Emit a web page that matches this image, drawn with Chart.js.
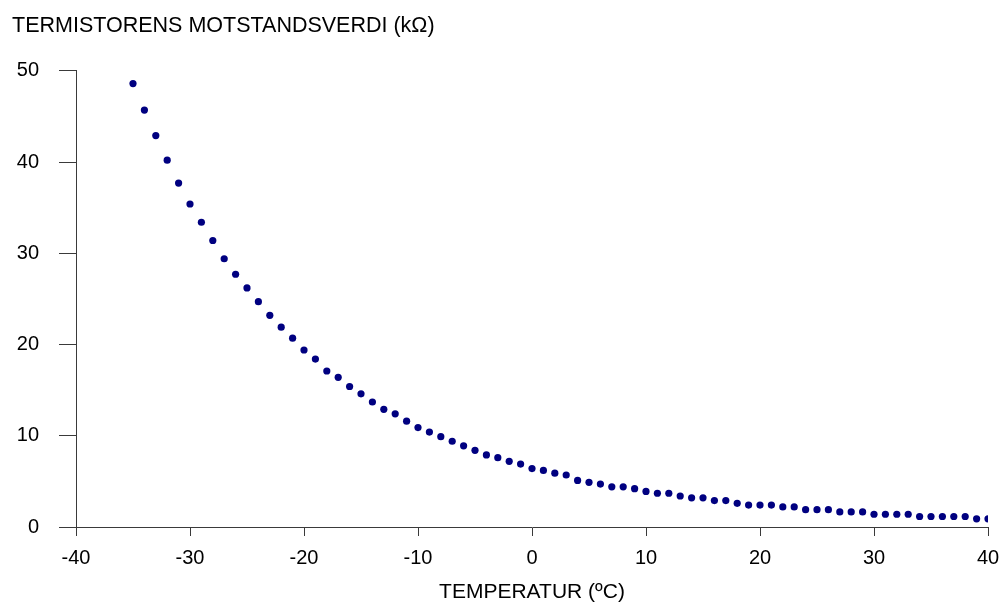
<!DOCTYPE html>
<html>
<head>
<meta charset="utf-8">
<title>Termistor</title>
<script src="https://cdn.jsdelivr.net/npm/chart.js@4/dist/chart.umd.min.js"></script>
<style>
  html, body { margin: 0; padding: 0; background: #fff; }
  #wrap { width: 1003px; height: 603px; }
</style>
</head>
<body>
<div id="wrap"><canvas id="thermChart"></canvas></div>
<script>
const temperatures = [
  -35, -34, -33, -32, -31, -30, -29, -28, -27, -26,
  -25, -24, -23, -22, -21, -20, -19, -18, -17, -16,
  -15, -14, -13, -12, -11, -10, -9, -8, -7, -6,
  -5, -4, -3, -2, -1, 0, 1, 2, 3, 4,
  5, 6, 7, 8, 9, 10, 11, 12, 13, 14,
  15, 16, 17, 18, 19, 20, 21, 22, 23, 24,
  25, 26, 27, 28, 29, 30, 31, 32, 33, 34,
  35, 36, 37, 38, 39, 40,
];
const resistance = [
  48.6, 45.7, 42.9, 40.2, 37.7, 35.4, 33.4, 31.4, 29.4, 27.7,
  26.2, 24.7, 23.2, 21.9, 20.7, 19.4, 18.4, 17.1, 16.4, 15.4,
  14.6, 13.7, 12.9, 12.4, 11.6, 10.9, 10.4, 9.9, 9.4, 8.9,
  8.4, 7.9, 7.6, 7.2, 6.9, 6.4, 6.2, 5.9, 5.7, 5.1,
  4.9, 4.7, 4.4, 4.4, 4.2, 3.9, 3.7, 3.7, 3.4, 3.2,
  3.2, 2.9, 2.9, 2.6, 2.4, 2.4, 2.4, 2.2, 2.2, 1.9,
  1.9, 1.9, 1.65, 1.65, 1.65, 1.4, 1.4, 1.4, 1.4, 1.15,
  1.15, 1.15, 1.15, 1.15, 0.9, 0.9,
];
const xTicks = [-40, -30, -20, -10, 0, 10, 20, 30, 40];
const yTicks = [0, 10, 20, 30, 40, 50];

const yTitle = "TERMISTORENS MOTSTANDSVERDI (kΩ)";
const xTitle = "TEMPERATUR (ºC)";

const fontFamily = "'Liberation Sans', Arial, sans-serif";
const axisColor = "#3a3a3a";

const points = temperatures.map((t, i) => ({ x: t, y: resistance[i] }));

const ctx = document.getElementById("thermChart").getContext("2d");

new Chart(ctx, {
  type: "scatter",
  data: {
    datasets: [
      {
        label: "R",
        data: points,
        backgroundColor: "#000080",
        borderColor: "#000080",
        borderWidth: 0,
        pointRadius: 3.6,
        pointHoverRadius: 3.6,
      },
    ],
  },
  options: {
    responsive: true,
    maintainAspectRatio: false,
    animation: false,
    layout: {
      padding: { left: 12, right: 15, top: 0, bottom: 0 },
    },
    plugins: {
      legend: { display: false },
      tooltip: { enabled: false },
      title: {
        display: true,
        text: yTitle,
        align: "start",
        color: "#000",
        font: { family: fontFamily, size: 21.5, weight: "normal", lineHeight: 1.2 },
        padding: { top: 13, bottom: 32 },
      },
    },
    scales: {
      x: {
        type: "linear",
        min: -40,
        max: 40,
        afterBuildTicks: (scale) => {
          scale.ticks = xTicks.map((v) => ({ value: v }));
        },
        afterFit: (scale) => {
          // fixed plot box, labels may hang over the edges
          scale.height = 76;
          scale.paddingLeft = 0;
          scale.paddingRight = 0;
        },
        ticks: {
          color: "#000",
          padding: 10,
          maxRotation: 0,
          font: { family: fontFamily, size: 20, lineHeight: 1.2 },
        },
        grid: {
          drawOnChartArea: false,
          drawTicks: true,
          tickLength: 9,
          color: axisColor,
          lineWidth: 1,
        },
        border: { display: true, color: axisColor, width: 1 },
        title: {
          display: true,
          text: xTitle,
          color: "#000",
          font: { family: fontFamily, size: 21, lineHeight: 1 },
          padding: { top: 0, bottom: 0 },
        },
      },
      y: {
        type: "linear",
        min: 0,
        max: 50,
        afterBuildTicks: (scale) => {
          scale.ticks = yTicks.map((v) => ({ value: v }));
        },
        afterFit: (scale) => {
          scale.width = 64;
        },
        ticks: {
          color: "#000",
          padding: 20,
          font: { family: fontFamily, size: 20, lineHeight: 1.2 },
        },
        grid: {
          drawOnChartArea: false,
          drawTicks: true,
          tickLength: 17,
          color: axisColor,
          lineWidth: 1,
        },
        border: { display: true, color: axisColor, width: 1 },
      },
    },
  },
});
</script>
</body>
</html>
